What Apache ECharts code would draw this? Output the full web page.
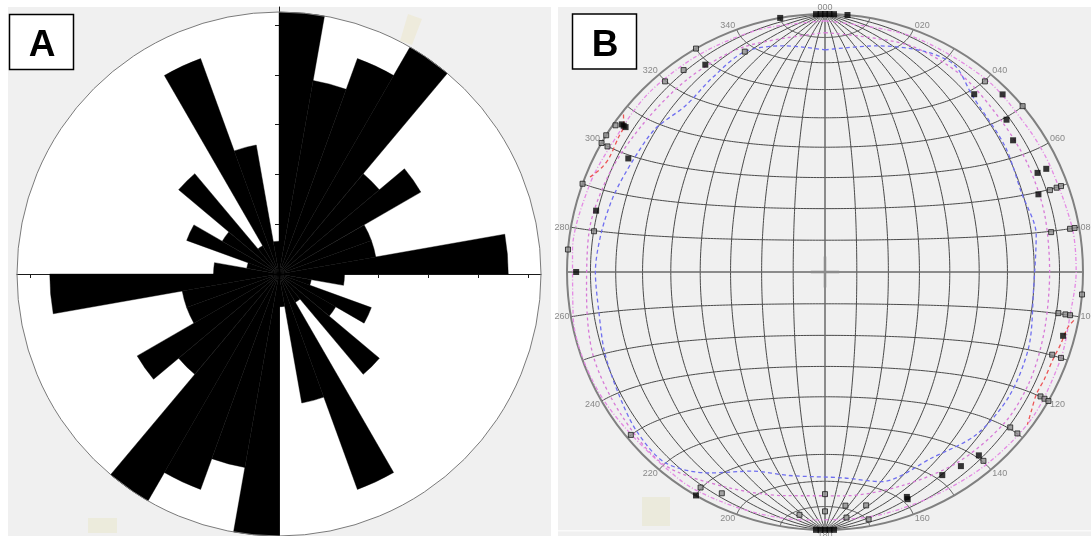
<!DOCTYPE html>
<html>
<head>
<meta charset="utf-8">
<script src="https://cdn.jsdelivr.net/npm/echarts@6/dist/echarts.min.js"></script>
<style>
  html, body { margin: 0; padding: 0; background: #ffffff; }
  #chart { width: 1091px; height: 536px; }
</style>
</head>
<body>
<div id="chart"></div>
<script>
// ---------------- A: rose diagram of joint strikes ----------------
// Number of strikes in each 10° bin from 0° to 180°; the rose is bidirectional,
// so every bin is repeated 180° opposite.
const roseBinStarts = [0, 10, 20, 30, 40, 50, 60, 70, 80, 90, 100, 110, 120, 130, 140, 150, 160, 170];
const roseCounts    = [8, 6, 7, 8, 4, 5, 3, 3, 7, 2, 1, 3, 2, 4, 1, 7, 4, 1];
// Scale ticks along the N–S and E–W arms, in percent of all strikes
const roseTickPct = [2, 4, 6, 8, 10];

// ---------------- B: lower-hemisphere equal-area stereonet ----------------
const azimuthLabels = ['000', '020', '040', '060', '080', '100', '120', '140', '160',
                       '180', '200', '220', '240', '260', '280', '300', '320', '340'];
const azimuthLabelTrends = [0, 20, 40, 60, 80, 100, 120, 140, 160, 180, 200, 220, 240, 260, 280, 300, 320, 340];

// Poles to joints: [trend°, plunge°]
const solidPoles = [
  [0, 0], [359, 0], [358, 0], [1, 0], [2, 0], [180, 0], [179, 0], [178, 0], [181, 0], [182, 0],
  [5, 0], [350, 0],
  [330, 8], [306, 3], [306, 4], [306, 5], [300, 13], [285, 9], [270, 4],
  [40, 11], [45, 3], [50, 9], [55, 12], [65, 10], [65, 6], [70, 13],
  [105, 5], [140, 8], [145, 9], [150, 10], [160, 8], [160, 7], [210, 0]
];
const openPoles = [
  [330, 0], [340, 10], [325, 5], [320, 4], [305, 1], [302, 0], [300, 3], [300, 0],
  [290, 0], [280, 10], [275, 0], [230, 2], [210, 4], [205, 6], [186, 6], [180, 15],
  [180, 8], [175, 10], [170, 9], [175, 5], [170, 3], [130, 7], [130, 3], [120, 4],
  [120, 2], [120, 0], [110, 7], [110, 3], [100, 9], [100, 6], [100, 4], [95, 0],
  [140, 5], [40, 4], [50, 0], [70, 8], [70, 5], [70, 3], [80, 12], [80, 4], [80, 2]
];

// Density contours: [trend°, plunge°]
const contourBlue = [
  [0, 15], [13, 11], [24, 7], [32, 6], [40, 12], [55, 16], [68, 19], [80, 18], [95, 20],
  [110, 17], [124, 15], [137, 15], [150, 18], [165, 17], [175, 21], [190, 21], [200, 19],
  [210, 11], [220, 4], [230, 5], [240, 8], [250, 10], [260, 12], [270, 12], [280, 13],
  [290, 14], [300, 15], [310, 15], [320, 17], [330, 14], [340, 10], [350, 12], [360, 15]
];
const contourPinkInner = [
  [0, 8], [20, 7], [35, 8], [50, 11], [62, 12], [75, 13], [90, 14], [105, 13], [118, 11],
  [130, 10], [145, 11], [160, 13], [175, 14], [190, 13], [205, 9], [220, 3], [235, 4],
  [250, 5], [265, 8], [280, 8], [295, 9], [310, 10], [325, 9], [340, 8], [360, 8]
];
const contourPinkOuter = [
  [0, 3], [20, 3], [40, 3], [55, 4], [65, 4], [80, 3], [90, 3], [100, 4], [110, 3],
  [125, 2], [140, 3], [155, 4], [170, 4], [185, 4], [200, 3], [215, 2], [240, 1],
  [260, 1], [275, 2], [290, 3], [300, 4], [315, 3], [330, 3], [345, 3], [360, 3]
];
const contourRedWest = [[308, 1], [306, 4], [303, 5], [298, 6], [295, 5], [292, 2]];
const contourRedEast = [[101, 2], [103, 4], [107, 5], [111, 6], [116, 6], [120, 6], [124, 4], [127, 2]];

// ---------------- layout ----------------
const W = 1091, H = 536;
const panelA = { x: 8, y: 7, w: 543, h: 529 };
const panelB = { x: 558, y: 7, w: 533, h: 529 };
const roseGeo = { cx: 279, cy: 274, r: 262 };
const netGeo = { cx: 825, cy: 272, r: 258 };
const FONT = '"Liberation Sans", Arial, sans-serif';

// ---------------- derived rose values ----------------
const roseTotal = roseCounts.reduce((s, v) => s + v, 0);
const halfPct = roseCounts.map(c => c / roseTotal * 100);
const rosePct = halfPct.concat(halfPct);
const roseCats = roseBinStarts.concat(roseBinStarts.map(b => b + 180)).map(b => b + '–' + (b + 10));
const roseMax = Math.max(...rosePct);
const xTicks = roseTickPct.map(v => -v).reverse().concat(roseTickPct);
const yMax = roseMax * (roseGeo.cy - panelA.y) / roseGeo.r;
const yMin = -roseMax * (H - roseGeo.cy) / roseGeo.r;

// ---------------- equal-area (Schmidt) projection helpers ----------------
const D2R = Math.PI / 180;
const eqArea = plunge => Math.SQRT2 * Math.sin((90 - plunge) / 2 * D2R);
const toPolar = ([trend, plunge]) => [eqArea(plunge), trend];
function netPoint(lon, lat) {
  const L = lon * D2R, P = lat * D2R;
  const k = 1 / Math.sqrt(1 + Math.cos(P) * Math.cos(L));
  return [Math.cos(P) * Math.sin(L) * k, Math.sin(P) * k];
}
const netLines = [];
for (let lon = -80; lon <= 80; lon += 10) {
  if (lon === 0) continue;
  const pts = [];
  for (let lat = -90; lat <= 90; lat += 1) pts.push(netPoint(lon, lat));
  netLines.push({ coords: pts });
}
for (let lat = -80; lat <= 80; lat += 10) {
  if (lat === 0) continue;
  const pts = [];
  for (let lon = -90; lon <= 90; lon += 1) pts.push(netPoint(lon, lat));
  netLines.push({ coords: pts });
}
const netAxes = [
  { coords: [[-1, 0], [1, 0]] },
  { coords: [[0, -1], [0, 1]] }
];
const netCross = [
  { coords: [[-0.055, 0], [0.055, 0]] },
  { coords: [[0, -0.06], [0, 0.06]] }
];

const labelItems = azimuthLabelTrends.map((t, i) => {
  let position, offset = [0, 0];
  if (t === 0) position = 'top';
  else if (t === 180) position = 'bottom';
  else position = t < 180 ? 'right' : 'left';
  if (t !== 0 && t !== 180) {
    if (t < 70 || t > 290) offset = [0, -4];
    else if (t > 110 && t < 250) offset = [0, 4];
  }
  return { value: [1, t], label: { formatter: azimuthLabels[i], position, offset, distance: 1 } };
});

function contourSeries(data, color, type) {
  return {
    type: 'line', coordinateSystem: 'polar', polarIndex: 1, z: 4, silent: true,
    showSymbol: false, symbol: 'none', smooth: 0.3,
    lineStyle: { color, width: 1.3, type },
    data: data.map(toPolar)
  };
}

const chart = echarts.init(document.getElementById('chart'), null, { renderer: 'canvas', width: W, height: H });

chart.setOption({
  animation: false,
  backgroundColor: '#ffffff',
  graphic: [
    { type: 'rect', z: -10, shape: { x: panelA.x, y: panelA.y, width: panelA.w, height: panelA.h }, style: { fill: '#f0f0f0' } },
    { type: 'rect', z: -10, shape: { x: panelB.x, y: panelB.y, width: panelB.w, height: panelB.h }, style: { fill: '#f0f0f0' } },
    { type: 'rect', z: -9, shape: { x: panelB.x, y: 530, width: panelB.w, height: 1.5 }, style: { fill: '#fafafa' } },
    // faint scanner stains
    { type: 'polygon', z: 50, shape: { points: [[408, 14], [422, 19], [412, 45], [400, 41]] }, style: { fill: '#eeebdc' } },
    { type: 'rect', z: -8, shape: { x: 88, y: 518, width: 29, height: 15 }, style: { fill: '#ecebdc' } },
    { type: 'rect', z: -8, shape: { x: 642, y: 497, width: 28, height: 29 }, style: { fill: '#ebeadc' } },
    // panel letters
    { type: 'rect', z: 100, shape: { x: 9.5, y: 14.5, width: 64, height: 55 }, style: { fill: '#ffffff', stroke: '#000000', lineWidth: 1.5 } },
    { type: 'text', z: 101, x: 42, y: 46, style: { text: 'A', font: 'bold 37px ' + FONT, fill: '#000', textAlign: 'center', textVerticalAlign: 'middle' } },
    { type: 'rect', z: 100, shape: { x: 572.5, y: 14, width: 64, height: 55 }, style: { fill: '#ffffff', stroke: '#000000', lineWidth: 1.5 } },
    { type: 'text', z: 101, x: 605, y: 46, style: { text: 'B', font: 'bold 37px ' + FONT, fill: '#000', textAlign: 'center', textVerticalAlign: 'middle' } }
  ],
  polar: [
    { center: [roseGeo.cx, roseGeo.cy], radius: roseGeo.r },
    { center: [netGeo.cx, netGeo.cy], radius: netGeo.r }
  ],
  angleAxis: [
    {
      polarIndex: 0, type: 'category', data: roseCats, startAngle: 90, clockwise: true, z: 3,
      axisLine: { show: true, lineStyle: { color: '#7a7a7a', width: 1 } },
      axisTick: { show: false }, axisLabel: { show: false }, splitLine: { show: false }
    },
    {
      polarIndex: 1, type: 'value', min: 0, max: 360, startAngle: 90, clockwise: true, z: 3,
      axisLine: { show: true, lineStyle: { color: '#808080', width: 2 } },
      axisTick: { show: false }, axisLabel: { show: false }, splitLine: { show: false }
    }
  ],
  radiusAxis: [
    { polarIndex: 0, type: 'value', min: 0, max: roseMax, show: false },
    { polarIndex: 1, type: 'value', min: 0, max: 1, show: false }
  ],
  grid: [
    { left: roseGeo.cx - roseGeo.r, width: 2 * roseGeo.r, top: panelA.y, height: H - panelA.y, containLabel: false },
    { left: netGeo.cx - netGeo.r, width: 2 * netGeo.r, top: netGeo.cy - netGeo.r, height: 2 * netGeo.r, containLabel: false }
  ],
  xAxis: [
    {
      gridIndex: 0, type: 'value', min: -roseMax, max: roseMax, z: 1,
      axisLine: { show: true, onZero: true, lineStyle: { color: '#1a1a1a', width: 1 } },
      axisTick: { show: true, customValues: xTicks, length: 4, lineStyle: { color: '#1a1a1a' } },
      axisLabel: { show: false }, splitLine: { show: false }
    },
    { gridIndex: 1, type: 'value', min: -1, max: 1, show: false }
  ],
  yAxis: [
    {
      gridIndex: 0, type: 'value', min: yMin, max: yMax, z: 1,
      axisLine: { show: true, onZero: true, lineStyle: { color: '#1a1a1a', width: 1 } },
      axisTick: { show: true, customValues: xTicks, length: 4, lineStyle: { color: '#1a1a1a' } },
      axisLabel: { show: false }, splitLine: { show: false }
    },
    { gridIndex: 1, type: 'value', min: -1, max: 1, show: false }
  ],
  series: [
    // white disc behind the rose
    {
      type: 'pie', silent: true, z: 0, center: [roseGeo.cx, roseGeo.cy], radius: roseGeo.r,
      label: { show: false }, labelLine: { show: false },
      itemStyle: { color: '#ffffff', borderWidth: 0 },
      data: [{ value: 1, name: 'disc' }]
    },
    {
      type: 'bar', coordinateSystem: 'polar', polarIndex: 0, z: 2, silent: true,
      barCategoryGap: '0%',
      itemStyle: { color: '#000000', borderColor: '#000000', borderWidth: 0.4 },
      data: rosePct
    },
    // equal-area net
    {
      type: 'lines', coordinateSystem: 'cartesian2d', xAxisIndex: 1, yAxisIndex: 1, polyline: true,
      silent: true, z: 1, lineStyle: { color: '#4a4a4a', width: 1, opacity: 1 }, data: netLines
    },
    {
      type: 'lines', coordinateSystem: 'cartesian2d', xAxisIndex: 1, yAxisIndex: 1, polyline: true,
      silent: true, z: 1, lineStyle: { color: '#6a6a6a', width: 1.5, opacity: 1 }, data: netAxes
    },
    {
      type: 'lines', coordinateSystem: 'cartesian2d', xAxisIndex: 1, yAxisIndex: 1, polyline: true,
      silent: true, z: 2, lineStyle: { color: '#8c8c8c', width: 2.5, opacity: 1 }, data: netCross
    },
    contourSeries(contourPinkOuter, '#e48ae4', [4, 2, 1, 2]),
    contourSeries(contourPinkInner, '#d77ad7', [3, 3]),
    contourSeries(contourBlue, '#6f6ff0', [4, 3]),
    contourSeries(contourRedWest, '#ec5555', [4, 3]),
    contourSeries(contourRedEast, '#ec5555', [4, 3]),
    {
      type: 'scatter', coordinateSystem: 'polar', polarIndex: 1, z: 6, silent: true,
      symbol: 'rect', symbolSize: 5,
      itemStyle: { color: '#8f8f8f', borderColor: '#1e1e1e', borderWidth: 1 },
      data: openPoles.map(toPolar)
    },
    {
      type: 'scatter', coordinateSystem: 'polar', polarIndex: 1, z: 7, silent: true,
      symbol: 'rect', symbolSize: 6,
      itemStyle: { color: '#050505' },
      data: solidPoles.map(toPolar)
    },
    {
      type: 'scatter', coordinateSystem: 'polar', polarIndex: 1, z: 8, silent: true,
      symbol: 'circle', symbolSize: 1, itemStyle: { color: 'rgba(0,0,0,0)' },
      label: { show: true, color: '#6e6e6e', fontSize: 9, fontFamily: FONT },
      data: labelItems
    }
  ]
});
</script>
</body>
</html>
